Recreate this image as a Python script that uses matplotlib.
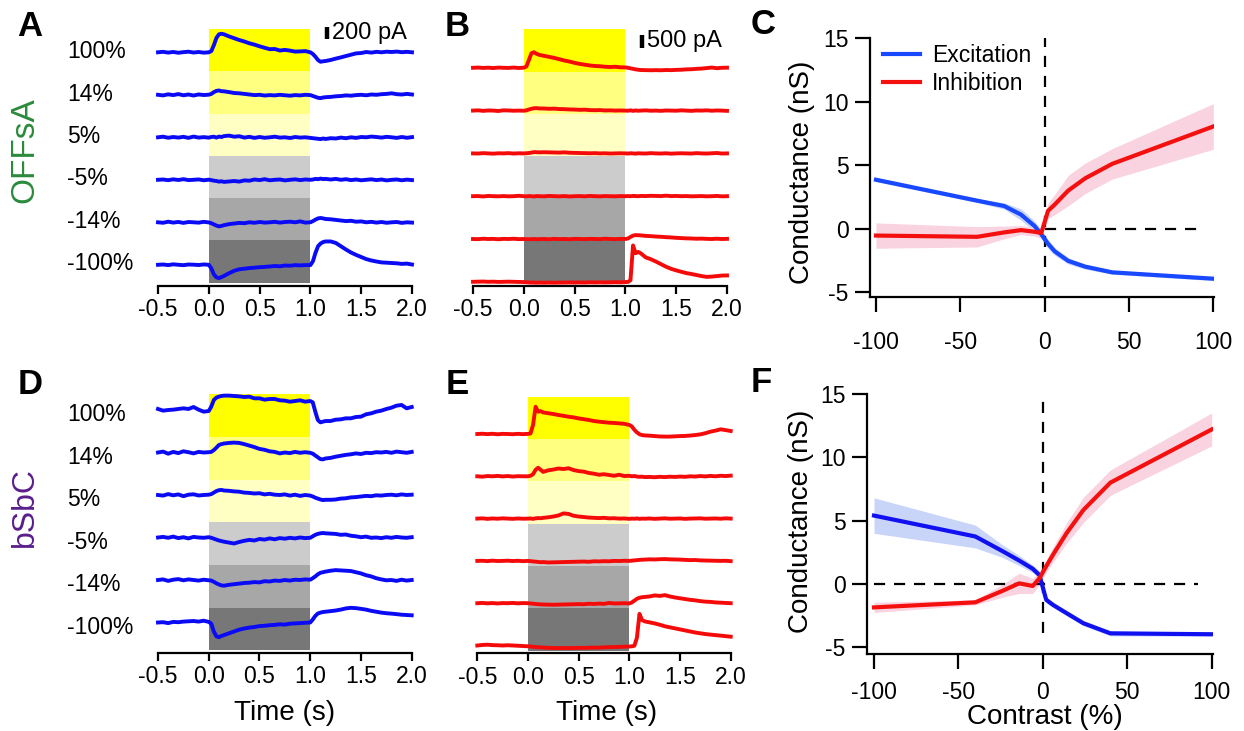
import numpy as np
import matplotlib
matplotlib.use("Agg")
import matplotlib.pyplot as plt

plt.rcParams['font.family'] = ['Liberation Sans', 'DejaVu Sans']
plt.rcParams['axes.unicode_minus'] = False

# ---------------- data ----------------
TIME = [-0.5, -0.45, -0.4, -0.35, -0.3, -0.25, -0.2, -0.15, -0.1, -0.05, 0.0,
        0.025, 0.05, 0.075, 0.1, 0.125, 0.15,
        0.2, 0.25, 0.3, 0.35, 0.4, 0.45, 0.5, 0.55, 0.6, 0.65, 0.7, 0.75, 0.8, 0.85, 0.9, 0.95,
        1.0,
        1.025, 1.05, 1.075, 1.1, 1.125, 1.15,
        1.2, 1.25, 1.3, 1.35, 1.4, 1.45, 1.5, 1.55, 1.6, 1.65, 1.7, 1.75, 1.8, 1.85, 1.9, 1.95, 2.0]

ROW_LABELS = ["100%", "14%", "5%", "-5%", "-14%", "-100%"]
BAND_COLORS = ['#ffff00', '#ffff80', '#ffffc4', '#cccccc', '#a7a7a7', '#777777']

# Panel A: OFFsA excitatory currents (pA)
A_100 = [0, 8, -5, 6, -8, 3, 10, -4, 5, -6, 0,
         20, 120, 240, 300, 310, 300,
         265, 235, 205, 180, 150, 128, 100, 75, 52, 55, 30, 40, 28, 12, 15, 20,
         0,
         -30, -75, -130, -158, -150, -145,
         -128, -105, -85, -62, -40, -18, -12, 5, -5, 8, 0, 10, 5, 12, 2, 8, 0]
A_14 = [0, -10, 8, -5, 12, -8, 5, -12, 6, -4, 2,
        15, 45, 65, 72, 60, 58,
        45, 30, 25, 15, 5, -5, 0, -12, -5, -10, 0, -8, -15, -5, -10, 0,
        -5,
        -20, -35, -50, -55, -45, -40,
        -35, -25, -20, -10, -15, -5, 0, -8, 5, 0, 10, 15, 25, 10, 5, 15, 5]
A_5 = [0, 10, -8, 5, -5, 8, -10, 12, -5, 3, -6,
       5, 10, -5, 12, 5, 20,
       28, 10, 18, -5, 8, -10, 5, -8, 0, 10, -5, 0, -12, 5, -5, 0,
       -10,
       -15, -20, -25, -30, -20, -28,
       -15, -20, -5, -15, 0, -10, 5, 0, 12, 5, -5, 8, 0, -10, 5, -8, 3]
A_M5 = [0, 5, -6, 8, -3, 10, -5, 0, 6, -8, 2,
        -5, -15, -20, -30, -25, -35,
        -28, -20, -30, -10, -15, 5, -5, 10, -8, 0, 5, -10, 0, 8, -5, 5,
        0,
        5, 15, 10, 20, 12, 15,
        5, 15, 0, 10, -5, 5, -8, 0, 8, -5, 5, -10, 0, 5, -8, 3, -5]
A_M14 = [0, -8, 10, -5, 6, -10, 5, 0, -6, 8, -2,
         -15, -35, -55, -68, -60, -48,
         -30, -20, -10, -15, 0, -8, 5, -5, 0, 8, -5, 5, 10, 0, 15, -5,
         0,
         20, 45, 65, 72, 65, 55,
         50, 40, 30, 20, 25, 10, 15, 0, 8, -5, 5, -8, 0, 5, -10, 0, -5]
A_M100 = [0, 5, -5, 8, 0, -6, 5, 2, -4, 6, 0,
          -60, -160, -210, -222, -205, -185,
          -140, -100, -75, -65, -55, -48, -40, -35, -28, -20, -25, -12, -15, -5, -10, -5,
          -5,
          60, 200, 310, 355, 380, 390,
          390, 365, 310, 255, 205, 165, 130, 95, 72, 55, 40, 35, 30, 25, 15, 20, 5]

# Panel B: OFFsA inhibitory currents (pA)
B_100 = [0, 10, -5, 5, -10, 8, 0, -5, 10, -8, 5,
         50, 300, 560, 600, 540, 500,
         460, 420, 380, 330, 280, 240, 190, 150, 120, 90, 70, 60, 40, 30, 40, 20,
         15,
         0, -20, -40, -60, -75, -85,
         -90, -95, -90, -95, -85, -90, -80, -75, -60, -55, -40, -30, -10, 10, -15, 0, 5]
B_14 = [0, 10, -10, 5, 0, -15, 10, 5, -5, 0, -5,
        10, 40, 70, 90, 95, 85,
        80, 70, 75, 60, 55, 45, 40, 30, 35, 20, 15, 20, 5, 10, 0, 5,
        0,
        -5, 10, -10, 5, -5, 0,
        10, -5, 0, -10, 5, 0, -5, 10, 0, -10, 5, 0, 10, -5, 5, 0, -10]
B_5 = [0, -5, 10, 0, -10, 5, 0, 10, -5, 5, 0,
       5, 15, 30, 50, 45, 40,
       45, 40, 35, 30, 40, 25, 20, 15, 10, 5, 10, 0, 5, -5, 0, 5,
       0,
       -5, 5, 0, -10, 5, 0,
       -5, 10, 0, -5, 5, -10, 0, 5, 0, -5, 10, 0, -5, 5, 15, -5, 0]
B_M5 = [0, 5, -10, 10, 0, -5, 5, -5, 0, 15, 0,
        -5, 5, 0, -10, 5, 0,
        -5, 10, 0, -5, 5, -10, 0, 5, -5, 10, 0, -5, 5, 0, -5, 5,
        0,
        5, 0, 10, 5, 0, 10,
        5, 15, 10, 5, 20, 5, 10, 0, 5, -5, 0, 5, -5, 0, 10, -5, 0]
B_M14 = [0, -5, 10, 0, 5, -10, 5, 0, 10, -5, 0,
         -5, -10, -5, 0, -10, -5,
         0, -10, 5, -5, 0, -10, 5, 0, -5, 5, 0, -5, 10, 0, -5, 5,
         0,
         20, 80, 130, 150, 145, 140,
         120, 110, 95, 85, 70, 60, 45, 35, 25, 20, 10, 15, 5, 0, 10, 0, 5]
B_M100 = [0, 5, 10, 0, 5, -5, 0, 5, 0, -5, -10,
          -20, -25, -30, -30, -35, -30,
          -35, -30, -35, -30, -30, -25, -30, -25, -30, -20, -25, -20, -25, -20, -15, -20,
          -10,
          -5, 60, 1400, 1100, 1150, 1100,
          940, 870, 780, 680, 580, 500, 440, 385, 335, 300, 260, 220, 190, 200, 220, 240, 245]

# Panel D: bSbC excitatory currents (pA)
D_100 = [17, -11, 0, 6, 17, 28, 17, 50, 6, -28, -17,
         56, 167, 206, 223, 234, 240,
         240, 234, 228, 217, 223, 195, 195, 173, 184, 184, 162, 156, 139, 150, 162, 139,
         150,
         128, -28, -167, -206, -195, -184,
         -184, -162, -156, -139, -139, -117, -111, -72, -56, -28, -11, 17, 39, 72, 84, 28, 50]
D_14 = [0, 15, -20, 10, -10, 20, 5, -15, 10, 0, 5,
        10, 40, 80, 125, 140, 150,
        160, 165, 160, 140, 115, 90, 60, 45, 20, 10, -15, 0, -10, 10, -5, 5,
        -5,
        -20, -50, -80, -110, -115, -100,
        -90, -70, -55, -40, -30, -15, -25, -5, -10, 5, 0, 10, -5, 15, 5, -5, 10]
D_5 = [0, -10, 15, -5, 10, -20, 5, 12, -8, 0, 5,
       15, 40, 65, 80, 85, 75,
       70, 60, 55, 40, 35, 25, 30, 10, 20, 5, 0, 10, -10, 5, -15, 0,
       -10,
       -25, -45, -60, -75, -85, -80,
       -80, -75, -60, -55, -40, -35, -25, -15, -20, -5, -10, 0, 5, -5, 10, 0, 5]
D_M5 = [0, 10, -5, 15, -10, 5, -15, 10, 0, -5, 5,
        -5, -20, -35, -50, -60, -70,
        -85, -100, -75, -55, -40, -50, -25, -35, -15, -30, -10, -20, -5, -15, 0, -10,
        -5,
        20, 45, 60, 70, 75, 70,
        65, 60, 45, 50, 30, 20, 5, 15, -5, 0, -10, 5, -5, 10, 0, -5, 5]
D_M14 = [0, 10, -15, 5, 15, -5, 10, 0, -10, 5, -5,
         -10, -30, -55, -75, -90, -95,
         -80, -70, -60, -50, -45, -35, -40, -20, -25, -10, -15, 0, -10, 5, 0, 10,
         5,
         30, 60, 95, 120, 130, 140,
         155, 165, 160, 155, 150, 130, 110, 80, 60, 30, 10, -5, 0, -15, 5, -10, 0]
D_M100 = [0, 5, -10, 10, 5, 15, 20, 25, 15, 30, 10,
          -20, -150, -230, -245, -225, -210,
          -180, -150, -120, -100, -85, -75, -60, -55, -45, -40, -30, -35, -20, -15, -10, -5,
          0,
          50, 110, 150, 165, 175, 180,
          190, 200, 215, 235, 245, 240, 228, 215, 195, 180, 165, 155, 148, 140, 130, 125, 120]

# Panel E: bSbC inhibitory currents (pA)
E_100 = [0, 10, -5, 8, -10, 5, 0, -8, 6, -5, 5,
         20, 350, 1050, 860, 880, 830,
         800, 770, 730, 700, 665, 640, 600, 570, 540, 500, 475, 455, 435, 425, 410, 390,
         350,
         290, 160, 60, -10, -40, -55,
         -65, -80, -95, -100, -100, -90, -80, -75, -60, -40, -15, 30, 90, 130, 180, 150, 115]
E_14 = [0, -15, 10, 0, 15, -5, 10, -10, 5, 0, 0,
        20, 80, 250, 330, 250, 170,
        230, 260, 300, 280, 310, 240, 200, 180, 130, 100, 60, 80, 50, 20, 60, 10,
        20,
        0, 10, -10, -20, -15, -30,
        -25, -35, -20, -30, -15, -25, -10, -20, 0, -10, 10, -5, 15, 0, 20, 10, 25]
E_5 = [0, 10, -10, 5, -5, 10, 0, -10, 5, -5, 0,
       5, -10, 10, 20, 15, 30,
       50, 80, 120, 200, 180, 110, 80, 60, 40, 30, 20, 30, 10, 15, 0, 5,
       -10,
       0, -5, 5, -10, 0, -5,
       5, -10, 0, 10, -5, 0, 5, -10, 0, 5, 10, -5, 0, 5, -5, 10, 0]
E_M5 = [0, 5, -8, 10, -5, 0, 8, -5, 5, -10, 0,
        -10, -20, -30, -40, -50, -45,
        -60, -55, -50, -45, -40, -35, -30, -25, -35, -15, -20, -10, -15, 0, -5, 5,
        0,
        10, 20, 30, 40, 45, 50,
        60, 55, 65, 70, 60, 55, 50, 40, 30, 35, 20, 15, 10, 5, 0, 5, -10]
E_M14 = [0, 10, -5, 5, -10, 5, 0, 10, -5, 5, 0,
         -10, -20, -30, -40, -45, -50,
         -55, -60, -55, -50, -45, -40, -35, -40, -20, -30, -15, -25, 10, -10, -5, 0,
         -10,
         30, 100, 170, 210, 230, 240,
         260, 300, 280, 310, 260, 220, 190, 160, 130, 110, 80, 60, 50, 30, 20, 10, 0]
E_M100 = [0, 20, 30, 15, 10, 0, 10, 0, -10, -20, -30,
          -40, -50, -60, -70, -70, -80,
          -90, -95, -100, -95, -100, -95, -90, -95, -85, -80, -85, -70, -65, -60, -55, -45,
          -40,
          -30, -10, 300, 1220, 980, 930,
          890, 850, 800, 740, 700, 660, 620, 580, 540, 500, 470, 440, 420, 400, 380, 360, 340]

# Conductance vs contrast
CONTRAST = [-100, -40, -24, -14, -6, -2, 2, 6, 14, 24, 40, 100]
C_EXC = [3.85, 2.2, 1.78, 1.1, 0.2, -0.45, -1.2, -1.8, -2.55, -3.0, -3.45, -3.95]
C_EXC_SEM = [0.15, 0.15, 0.25, 0.45, 0.4, 0.35, 0.35, 0.3, 0.25, 0.2, 0.15, 0.15]
C_INH = [-0.55, -0.65, -0.3, -0.12, -0.25, -0.35, 1.4, 1.9, 3.0, 3.96, 5.1, 8.05]
C_INH_SEM = [1.0, 0.8, 0.5, 0.35, 0.35, 0.4, 0.6, 0.8, 1.2, 1.2, 1.2, 1.8]
F_EXC = [5.4, 3.75, 2.6, 1.85, 1.2, 0.7, -1.25, -1.65, -2.3, -3.1, -3.9, -3.97]
F_EXC_SEM = [1.4, 0.9, 0.5, 0.4, 0.3, 0.3, 0.25, 0.2, 0.2, 0.2, 0.2, 0.15]
F_INH = [-1.85, -1.45, -0.55, 0.05, -0.16, 0.45, 1.4, 2.3, 4.0, 5.84, 8.0, 12.2]
F_INH_SEM = [0.4, 0.2, 0.5, 0.8, 0.6, 0.5, 0.5, 0.6, 0.8, 1.0, 1.0, 1.3]

# ---------------- layout helpers ----------------
W, H = 1244, 731
fig = plt.figure(figsize=(W / 100, H / 100), dpi=100)
fig.patch.set_facecolor('white')


def px_axes(x0, y0, x1, y1):
    return fig.add_axes([x0 / W, 1 - y1 / H, (x1 - x0) / W, (y1 - y0) / H])


def ftext(x, y, s, **kw):
    return fig.text(x / W, 1 - y / H, s, **kw)


TRACE_BLUE = '#0a0af5'
TRACE_RED = '#f50a0a'


def trace_panel(x0, x1, top, spine, gap, first_base, spacing, pa_per_px,
                traces, color, scale=None):
    ax = px_axes(x0, top, x1, spine)
    hpx = spine - top
    ax.set_xlim(-0.5, 2.0)
    ax.set_ylim(0, hpx * pa_per_px)
    band_h = (hpx - gap) / 6.0
    for i, c in enumerate(BAND_COLORS):
        hi = (hpx - i * band_h) * pa_per_px
        lo = (hpx - (i + 1) * band_h) * pa_per_px
        ax.fill_between([0.0, 1.0], lo, hi, color=c, lw=0, zorder=1)
    t = np.array(TIME)
    for i, tr in enumerate(traces):
        base = (hpx - first_base - i * spacing) * pa_per_px
        ax.plot(t, base + np.array(tr), color=color, lw=2.8, zorder=3,
                solid_joinstyle='round', clip_on=False)
    for s in ['top', 'right', 'left']:
        ax.spines[s].set_visible(False)
    ax.spines['bottom'].set_linewidth(1.6)
    ax.set_yticks([])
    ax.set_xticks([-0.5, 0.0, 0.5, 1.0, 1.5, 2.0])
    ax.set_xticklabels(['-0.5', '0.0', '0.5', '1.0', '1.5', '2.0'])
    ax.tick_params(axis='x', direction='out', length=6, width=1.6,
                   labelsize=16.5, pad=3)
    ax.patch.set_alpha(0)
    if scale is not None:
        val, label, bar_t, text_t, ytop_px = scale
        ytop = (hpx + (top - ytop_px)) * pa_per_px
        ax.plot([bar_t, bar_t], [ytop - val, ytop], color='black', lw=3.2,
                solid_capstyle='butt', clip_on=False)
        ax.text(text_t, ytop - val / 2.0, label, fontsize=17, ha='left',
                va='center', clip_on=False)
    return ax


trace_panel(158, 412, 29, 286, 3.5, 23.3, 42.5, 16.7,
            [A_100, A_14, A_5, A_M5, A_M14, A_M100], TRACE_BLUE,
            scale=(200, '200 pA', 1.163, 1.215, 26.7))
trace_panel(473, 727, 29.3, 286, 3.5, 38.5, 42.8, 38.5,
            [B_100, B_14, B_5, B_M5, B_M14, B_M100], TRACE_RED,
            scale=(500, '500 pA', 1.163, 1.215, 35.0))
trace_panel(158, 411.7, 394.3, 652.7, 2.5, 15.7, 42.5, 16.7,
            [D_100, D_14, D_5, D_M5, D_M14, D_M100], TRACE_BLUE)
trace_panel(477.3, 730.7, 396.7, 653.3, 2.5, 37.3, 42.3, 38.5,
            [E_100, E_14, E_5, E_M5, E_M14, E_M100], TRACE_RED)

# row labels
for i, lab in enumerate(ROW_LABELS):
    ftext(67, 51.7 + i * 42.4, lab, fontsize=16.5, ha='left', va='center')
    ftext(67, 415 + i * 42.4, lab, fontsize=16.5, ha='left', va='center')

# cell type labels
ftext(25, 150, 'OFFsA', fontsize=24, rotation=90, color='#2a8a3a',
      ha='center', va='center')
ftext(25, 507, 'bSbC', fontsize=23, rotation=90, color='#5a1e8c',
      ha='center', va='center')

# panel letters
for letter, (x, y) in {'A': (30, 26), 'B': (457, 26), 'C': (763, 24),
                       'D': (30, 385), 'E': (457, 385), 'F': (761, 383)}.items():
    ftext(x, y, letter, fontsize=25, fontweight='bold', ha='center', va='center')

ftext(285, 713, 'Time (s)', fontsize=20, ha='center', va='center')
ftext(607, 713, 'Time (s)', fontsize=20, ha='center', va='center')


def cond_panel(x0, y0, x1, y1, xlim, ylim, exc, exc_sem, inh, inh_sem,
               exc_color, vspan, hspan, xpad, legend=False):
    ax = px_axes(x0, y0, x1, y1)
    x = np.array(CONTRAST)
    e, es = np.array(exc), np.array(exc_sem)
    i_, is_ = np.array(inh), np.array(inh_sem)
    ax.fill_between(x, e - es, e + es, color='#c9d5f8', lw=0, zorder=1)
    ax.fill_between(x, i_ - is_, i_ + is_, color='#f9d3df', lw=0, zorder=1)
    ax.vlines(0, vspan[0], vspan[1], colors='black', lw=1.6,
              linestyles=(0, (5, 4)), zorder=2)
    ax.hlines(0, hspan[0], hspan[1], colors='black', lw=1.6,
              linestyles=(0, (5, 4)), zorder=2)
    ax.plot(x, e, color=exc_color, lw=3, zorder=3, label='Excitation')
    ax.plot(x, i_, color='#f51010', lw=3, zorder=3, label='Inhibition')
    ax.set_xlim(*xlim)
    ax.set_ylim(*ylim)
    for s in ['top', 'right']:
        ax.spines[s].set_visible(False)
    for s in ['left', 'bottom']:
        ax.spines[s].set_linewidth(1.6)
    ax.set_xticks([-100, -50, 0, 50, 100])
    ax.set_yticks([-5, 0, 5, 10, 15])
    ax.tick_params(axis='both', direction='out', length=10.5, width=1.6,
                   labelsize=16.5)
    ax.tick_params(axis='x', pad=xpad)
    ax.tick_params(axis='y', pad=5)
    ax.patch.set_alpha(0)
    if legend:
        ax.legend(loc='upper left', bbox_to_anchor=(0.038, 0.978), frameon=False,
                  fontsize=16.5, handlelength=1.6, handletextpad=0.55,
                  labelspacing=0.2, borderaxespad=0, borderpad=0)
    return ax


cond_panel(870, 38.3, 1214, 296.7, (-103.56, 100.4), (-5.37, 15),
           C_EXC, C_EXC_SEM, C_INH, C_INH_SEM, '#1848ff',
           (-4.6, 15), (0, 92), 14, legend=True)
cond_panel(867.3, 394, 1212.5, 654, (-103.97, 100.5), (-5.53, 15),
           F_EXC, F_EXC_SEM, F_INH, F_INH_SEM, '#1010f0',
           (-3.9, 15), (-100, 92), 9)

ftext(802, 172, 'Conductance (nS)', fontsize=20, rotation=90, ha='center', va='center')
ftext(801, 521, 'Conductance (nS)', fontsize=20, rotation=90, ha='center', va='center')
ftext(1045, 717, 'Contrast (%)', fontsize=20, ha='center', va='center')

fig.savefig('out.png', dpi=100, facecolor='white')
